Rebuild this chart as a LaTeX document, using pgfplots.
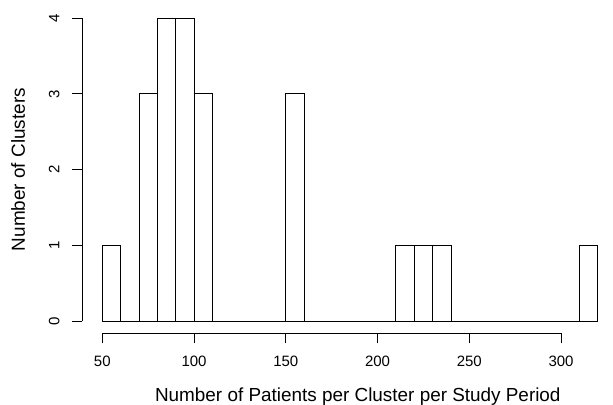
\documentclass[border=0pt]{standalone}
\usepackage{fontspec}
\setmainfont{Liberation Sans}
\usepackage{pgfplots}
\pgfplotsset{compat=1.18}
\begin{document}
\begin{tikzpicture}
\begin{axis}[
  scale only axis,
  width=530.5bp, height=333.1bp,
  xmin=39.2, xmax=328.3,
  ymin=-0.16, ymax=4.240,
  axis line style={draw=none},
  xtick={50,100,150,200,250,300},
  ytick={0,1,2,3,4},
  xtick pos=bottom, ytick pos=left,
  tick align=outside,
  major tick length=10bp,
  every tick/.style={black, line width=0.9bp},
  minor tick num=0,
  /pgf/number format/assume math mode=true,
  ticklabel style={font=\fontsize{15bp}{18bp}\selectfont},
  xticklabel style={anchor=base, yshift=-23bp},
  yticklabel style={anchor=base, xshift=-13bp, rotate=90},
  xlabel={Number of Patients per Cluster per Study Period},
  ylabel={Number of Clusters},
  label style={font=\fontsize{18.9bp}{22bp}\selectfont},
  xlabel style={at={(axis description cs:0.519,-0.206)}, anchor=base},
  ylabel style={at={(axis description cs:-0.1084,0.4908)}, anchor=base},
  clip=false,
]
\addplot[ybar interval, draw=black, fill=white, line width=0.9bp] coordinates {
(50,1) (60,0) (70,3) (80,4) (90,4) (100,3) (110,0) (120,0) (130,0) (140,0)
(150,3) (160,0) (170,0) (180,0) (190,0) (200,0) (210,1) (220,1) (230,1) (240,0)
(250,0) (260,0) (270,0) (280,0) (290,0) (300,0) (310,1) (320,0)
};
\draw[line width=0.9bp] (axis cs:50,-0.16) -- (axis cs:300,-0.16);
\draw[line width=0.9bp] (axis cs:39.2,0) -- (axis cs:39.2,4);
\end{axis}
\pgfresetboundingbox
\path[use as bounding box] ([xshift=-82.5bp,yshift=-71.9bp]current axis.south west) rectangle (current axis.north east);
\end{tikzpicture}
\end{document}
